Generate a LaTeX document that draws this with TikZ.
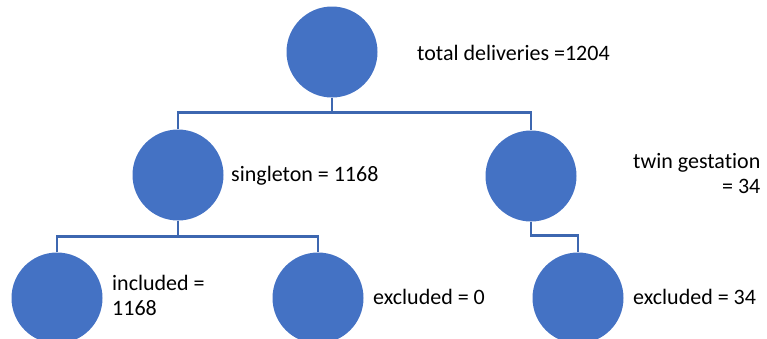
\documentclass[tikz,border=0pt]{standalone}
\usepackage{fontspec}
\setmainfont{Carlito}[Ligatures=NoCommon]
\definecolor{officeblue}{HTML}{4472C4}
\tikzset{
	dot/.style={circle,fill=officeblue,minimum size=91pt,inner sep=0pt},
	link/.style={draw=officeblue!90!black,line width=2.5pt},
	lab/.style={anchor=west,inner sep=0pt,font=\fontsize{22}{25}\selectfont}
}
\begin{document}
\begin{tikzpicture}[x=1pt,y=-1pt]
	\useasboundingbox (0,0) rectangle (767,338);
	% circles
	\node[dot] (total)  at (332,52)  {};
	\node[dot] (single) at (178,175) {};
	\node[dot] (twin)   at (531,176) {};
	\node[dot] (incl)   at (57,298)  {};
	\node[dot] (excla)  at (318,298) {};
	\node[dot] (exclb)  at (578,298) {};
	
	% texts
	\node[lab] (ltotal)  at (417,53)  {total deliveries =1204};
	\node[lab] (lsingle) at (231,176) {singleton = 1168};
	\node[lab,align=right] (ltwin) at (633,174) {twin gestation\\= 34};
	\node[lab,align=left]  (lincl) at (112,295) {included =\\1168};
	\node[lab] (lexcla) at (373,297) {excluded = 0};
	\node[lab] (lexclb) at (633,297) {excluded = 34};
	
	% connectors
	\draw[link] (total.south) -- ++(0,15);
	\draw[link] (single.north) -- ++(0,-17) -| (twin.north);
	\draw[link] (single.south) -- ++(0,16);
	\draw[link] (incl.north) -- ++(0,-16) -| (excla.north);
	\draw[link] (twin.south) -- ++(0,14) -| (exclb.north);
\end{tikzpicture}
\end{document}
